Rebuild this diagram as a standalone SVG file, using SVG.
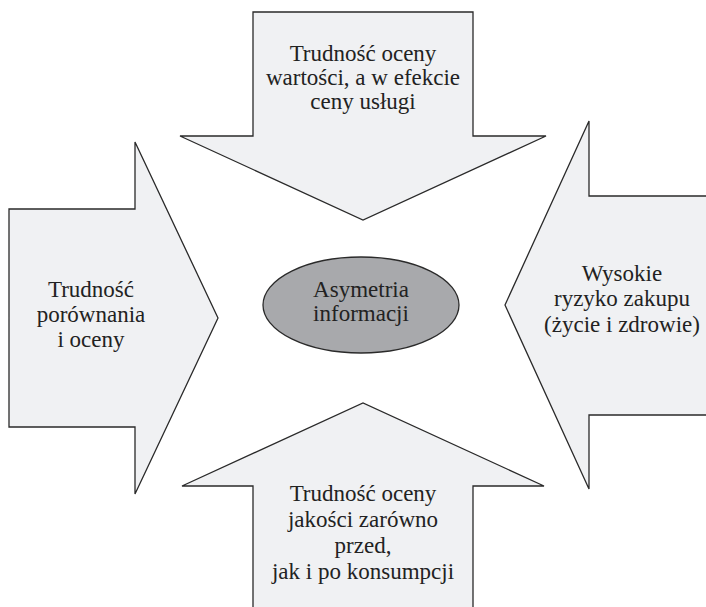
<svg xmlns="http://www.w3.org/2000/svg" width="706" height="607" viewBox="0 0 706 607">
<style>
.arrow{fill:#f0f1f3;stroke:#2a2a2a;stroke-width:1.3;stroke-linejoin:miter}
.oval{fill:#a8a9ac;stroke:#2a2a2a;stroke-width:1.3}
.t{font-family:"Liberation Serif","Times New Roman",serif;font-size:23px;fill:#222;text-anchor:middle}
</style>
<rect width="706" height="607" fill="#ffffff"/>
<g id="connectors"></g>
<g id="top-arrow">
<path class="arrow" d="M253,12 H473 V136 H546 L363,220 L180,136 H253 Z"/>
<text class="t" x="363" y="61">Trudność oceny</text>
<text class="t" x="363" y="85">wartości, a w efekcie</text>
<text class="t" x="363" y="109">ceny usługi</text>
</g>
<g id="left-arrow">
<path class="arrow" d="M9,209 H135 V142 L218,318 L135,494 V427 H9 Z"/>
<text class="t" x="91" y="297">Trudność</text>
<text class="t" x="91" y="322">porównania</text>
<text class="t" x="91" y="347">i oceny</text>
</g>
<g id="right-arrow">
<path class="arrow" d="M712,196 H589 V121 L505,305 L589,489 V415 H712 Z"/>
<text class="t" x="622" y="281">Wysokie</text>
<text class="t" x="622" y="306">ryzyko zakupu</text>
<text class="t" x="622" y="332">(życie i zdrowie)</text>
</g>
<g id="bottom-arrow">
<path class="arrow" d="M253,612 V486 H182 L363,403 L544,486 H473 V612 Z"/>
<text class="t" x="363" y="501">Trudność oceny</text>
<text class="t" x="363" y="527">jakości zarówno</text>
<text class="t" x="363" y="553">przed,</text>
<text class="t" x="363" y="579">jak i po konsumpcji</text>
</g>
<g id="center">
<ellipse class="oval" cx="361" cy="305" rx="98" ry="48"/>
<text class="t" x="361" y="297">Asymetria</text>
<text class="t" x="361" y="321">informacji</text>
</g>
</svg>
